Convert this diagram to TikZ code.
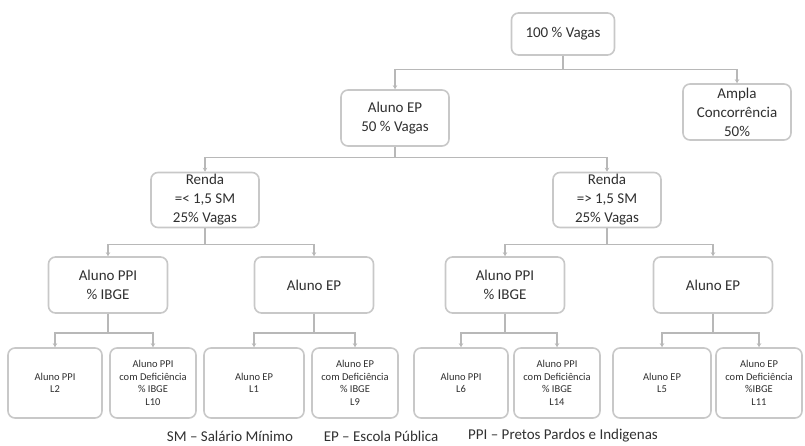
\documentclass[tikz,border=0pt]{standalone}
\usepackage{fontspec}
\setmainfont{Carlito}
\usetikzlibrary{arrows.meta}
\definecolor{boxgray}{HTML}{C8C8C8}
\definecolor{linegray}{HTML}{B8B8B8}
\definecolor{textgray}{HTML}{303030}
\tikzset{
    vagabox/.style={draw=boxgray,line width=1.6pt,rounded corners=7pt,fill=white,align=center,inner sep=0pt,text=textgray,font=\fontsize{15}{19}\selectfont},
    bigbox/.style={vagabox,minimum width=108pt,minimum height=56pt},
    midbox/.style={vagabox,minimum width=119pt,minimum height=56pt},
    smallbox/.style={vagabox,minimum height=70pt,font=\fontsize{10.5}{12.5}\selectfont},
    legend/.style={text=textgray,font=\fontsize{15}{19}\selectfont,inner sep=0pt},
    link/.style={draw=linegray,line width=1.4pt,-{Stealth[length=4pt,width=4.5pt]}}
}
\begin{document}
\begin{tikzpicture}[x=1pt,y=-1pt]
\useasboundingbox (0,0) rectangle (805,446);

% top of the tree
\node[vagabox,minimum width=103pt,minimum height=42pt] (top) at (563,34) {100 \% Vagas};
\node[bigbox] (ep50) at (395,118) {Aluno EP\\50 \% Vagas};
\node[bigbox] (ampla) at (737,112) {Ampla\\Concorrência\\50\%};

% income level
\node[bigbox,minimum height=55pt] (rendaA) at (205,200) {Renda\\=< 1,5 SM\\25\% Vagas};
\node[bigbox,minimum height=55pt] (rendaB) at (607,200) {Renda\\=> 1,5 SM\\25\% Vagas};

\node[midbox] (ppiA) at (108,285) {Aluno PPI\\\% IBGE};
\node[midbox] (epA) at (314,285) {Aluno EP};
\node[midbox] (ppiB) at (505,285) {Aluno PPI\\\% IBGE};
\node[midbox] (epB) at (713,285) {Aluno EP};

% leaves
\node[smallbox,minimum width=94pt] (L2) at (55,383) {Aluno PPI\\L2};
\node[smallbox,minimum width=86pt] (L10) at (153,383) {Aluno PPI\\com Deficiência\\\% IBGE\\L10};
\node[smallbox,minimum width=100pt] (L1) at (254,383) {Aluno EP\\L1};
\node[smallbox,minimum width=86pt] (L9) at (355,383) {Aluno EP\\com Deficiência\\\% IBGE\\L9};
\node[smallbox,minimum width=94pt] (L6) at (461,383) {Aluno PPI\\L6};
\node[smallbox,minimum width=86pt] (L14) at (557,383) {Aluno PPI\\com Deficiência\\\% IBGE\\L14};
\node[smallbox,minimum width=98pt] (L5) at (662,383) {Aluno EP\\L5};
\node[smallbox,minimum width=86pt] (L11) at (759,383) {Aluno EP\\com Deficiência\\\%IBGE\\L11};

\draw[link] (top.south) -- ++(0,14) -| (ep50.north);
\draw[link] (top.south) -- ++(0,14) -| (ampla.north);
\draw[link] (ep50.south) -- ++(0,11) -| (rendaA.north);
\draw[link] (ep50.south) -- ++(0,11) -| (rendaB.north);
\draw[link] (rendaA.south) -- ++(0,16) -| (ppiA.north);
\draw[link] (rendaA.south) -- ++(0,16) -| (epA.north);
\draw[link] (rendaB.south) -- ++(0,16) -| (ppiB.north);
\draw[link] (rendaB.south) -- ++(0,16) -| (epB.north);
\draw[link] (ppiA.south) -- ++(0,19) -| (L2.north);
\draw[link] (ppiA.south) -- ++(0,19) -| (L10.north);
\draw[link] (epA.south) -- ++(0,19) -| (L1.north);
\draw[link] (epA.south) -- ++(0,19) -| (L9.north);
\draw[link] (ppiB.south) -- ++(0,19) -| (L6.north);
\draw[link] (ppiB.south) -- ++(0,19) -| (L14.north);
\draw[link] (epB.south) -- ++(0,19) -| (L5.north);
\draw[link] (epB.south) -- ++(0,19) -| (L11.north);

% legend
\node[legend] (sm) at (230,436) {SM – Salário Mínimo};
\node[legend] (ep) at (381,436) {EP – Escola Pública};
\node[legend] (ppi) at (563,436) {PPI – Pretos Pardos e Indigenas};
\end{tikzpicture}
\end{document}
